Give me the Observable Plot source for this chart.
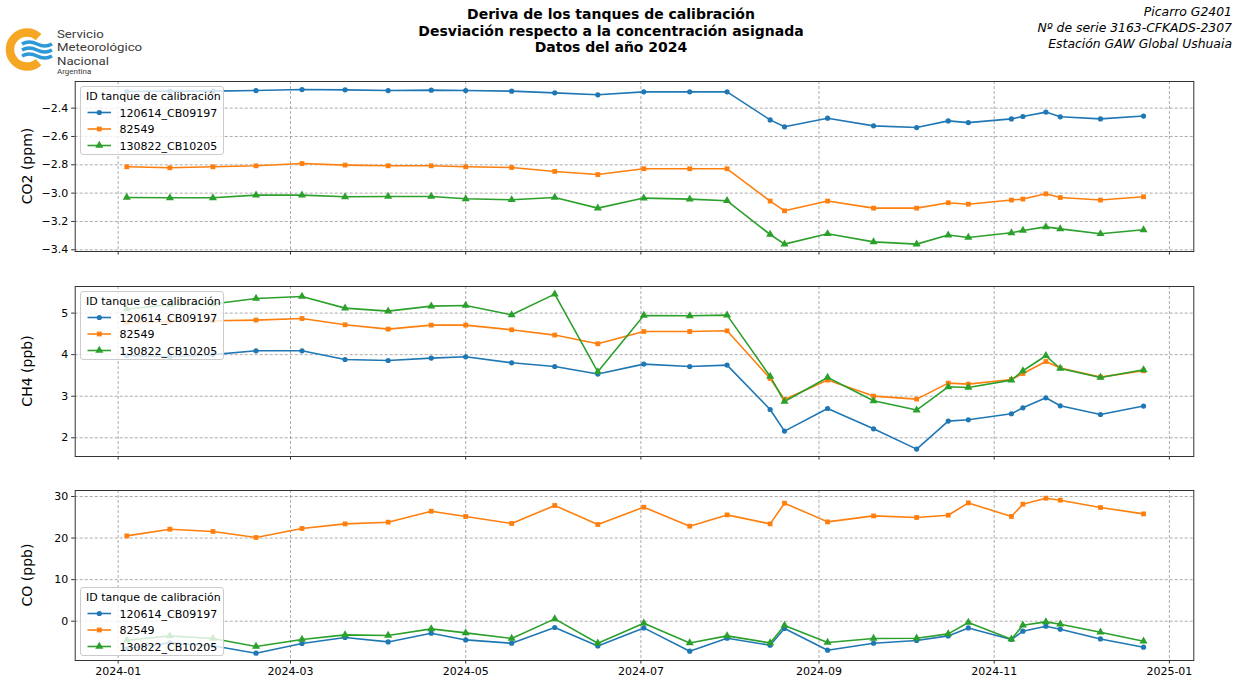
<!DOCTYPE html>
<html>
<head>
<meta charset="utf-8">
<script src="https://cdn.jsdelivr.net/npm/d3@7"></script>
<script src="https://cdn.jsdelivr.net/npm/@observablehq/plot@0.6"></script>
<style>
  html, body { margin: 0; padding: 0; background: #fff; }
  #wrap { position: relative; width: 1242px; height: 681px; overflow: hidden; font-family: "DejaVu Sans", sans-serif; }
  .abs { position: absolute; }
  .title { left: 311px; width: 600px; top: 6px; text-align: center; font-weight: bold; font-size: 14px; line-height: 16.5px; color: #000; }
  .right { right: 10px; top: 4px; text-align: right; font-style: italic; font-size: 12.4px; line-height: 16px; color: #000; }
  .ylab { font-size: 14px; color: #000; transform: translate(-50%, -50%) rotate(-90deg); white-space: nowrap; }
  .legend { background: rgba(255,255,255,0.8); border: 1px solid #ccc; border-radius: 3px; width: 144px; height: 69px; box-sizing: border-box; font-size: 11px; }
  .logo-line { left: 57px; font-family: Roboto, sans-serif; font-size: 11.6px; line-height: 13.6px; color: #3a3a3a; transform: scaleX(1.14); transform-origin: 0 0; white-space: nowrap; }
</style>
</head>
<body>
<div id="wrap"></div>
<script>
// ---------- data ----------
const dates = ["2024-01-04","2024-01-19","2024-02-03","2024-02-18","2024-03-05","2024-03-20","2024-04-04","2024-04-19","2024-05-01","2024-05-17","2024-06-01","2024-06-16","2024-07-02","2024-07-18","2024-07-31","2024-08-15","2024-08-20","2024-09-04","2024-09-20","2024-10-05","2024-10-16","2024-10-23","2024-11-07","2024-11-11","2024-11-19","2024-11-24","2024-12-08","2024-12-23"];
const seriesNames = ["120614_CB09197", "82549", "130822_CB10205"];

const co2_120614 = [-2.283,-2.280,-2.280,-2.276,-2.269,-2.271,-2.276,-2.273,-2.276,-2.280,-2.292,-2.306,-2.285,-2.285,-2.285,-2.483,-2.532,-2.471,-2.525,-2.537,-2.490,-2.502,-2.476,-2.459,-2.428,-2.461,-2.476,-2.456];
const co2_82549 = [-2.814,-2.821,-2.814,-2.807,-2.791,-2.802,-2.807,-2.807,-2.814,-2.819,-2.847,-2.869,-2.828,-2.828,-2.828,-3.056,-3.125,-3.056,-3.106,-3.106,-3.068,-3.078,-3.049,-3.042,-3.005,-3.031,-3.049,-3.026];
const co2_130822 = [-3.031,-3.033,-3.033,-3.014,-3.014,-3.026,-3.024,-3.024,-3.040,-3.047,-3.031,-3.106,-3.035,-3.042,-3.054,-3.292,-3.360,-3.287,-3.344,-3.360,-3.296,-3.313,-3.280,-3.264,-3.238,-3.252,-3.287,-3.259];

const ch4_120614 = [3.98,3.949,4.00,4.093,4.093,3.884,3.860,3.917,3.949,3.804,3.715,3.533,3.773,3.715,3.749,2.681,2.161,2.705,2.217,1.728,2.402,2.433,2.578,2.722,2.962,2.770,2.561,2.763];
const ch4_82549 = [4.774,4.798,4.815,4.832,4.870,4.719,4.615,4.711,4.711,4.598,4.471,4.262,4.557,4.557,4.574,3.427,2.922,3.388,3.003,2.931,3.316,3.292,3.403,3.547,3.836,3.677,3.460,3.612];
const ch4_130822 = [5.10,5.20,5.22,5.351,5.399,5.120,5.048,5.168,5.183,4.959,5.457,3.588,4.942,4.935,4.952,3.475,2.873,3.451,2.890,2.667,3.227,3.210,3.388,3.612,3.973,3.667,3.451,3.636];

const co_120614 = [-6.56,-5.21,-5.9,-7.70,-5.36,-3.92,-4.98,-2.88,-4.50,-5.29,-1.51,-5.94,-1.61,-7.21,-4.09,-5.77,-1.75,-6.97,-5.29,-4.64,-3.53,-1.61,-4.40,-2.40,-1.20,-1.92,-4.26,-6.25];
const co_82549 = [20.52,22.13,21.58,20.14,22.30,23.41,23.82,26.46,25.19,23.50,27.83,23.26,27.43,22.86,25.57,23.41,28.39,23.89,25.33,24.95,25.50,28.46,25.19,28.15,29.59,29.11,27.35,25.81];
const co_130822 = [-4.57,-3.53,-4.16,-6.08,-4.40,-3.29,-3.44,-1.85,-2.81,-4.16,0.56,-5.29,-0.48,-5.22,-3.53,-5.22,-1.03,-5.12,-4.16,-4.09,-3.05,-0.31,-4.33,-0.96,-0.16,-0.72,-2.65,-4.81];

const xTickLabels = ["2024-01","2024-03","2024-05","2024-07","2024-09","2024-11","2025-01"];
const co2Ticks = [-3.4,-3.2,-3.0,-2.8,-2.6,-2.4];
const ch4Ticks = [2,3,4,5];
const coTicks = [0,10,20,30];
const yLabels = ["CO2 (ppm)", "CH4 (ppb)", "CO (ppb)"];
const legendTitle = "ID tanque de calibración";

// ---------- styling ----------
const colors = ["#1f77b4", "#ff7f0e", "#2ca02c"];
const symbols = ["circle", "square", "triangle"];
const symbolR = [2.6, 2.7, 3.0];
const parse = d3.utcParse("%Y-%m-%d");
const xTicks = xTickLabels.map(d3.utcParse("%Y-%m"));
const xDomain = [new Date(Date.UTC(2023, 11, 17, 1)), new Date(Date.UTC(2025, 0, 9, 12))];

const W = 1242, ML = 74.7, MR = 48.7, MT = 10, FH = 170, MB = 28;
const wrap = document.getElementById("wrap");

function buildData(arrs) {
  const out = [];
  arrs.forEach((arr, si) => arr.forEach((v, i) => out.push({date: parse(dates[i]), value: v, series: seriesNames[si]})));
  return out;
}

function panel(arrs, yDomain, yTicks, yFmt, showX, frameTop) {
  const data = buildData(arrs);
  const marks = [
    Plot.gridX(xTicks, {stroke: "#8c8c8c", strokeOpacity: 0.9, strokeWidth: 0.8, strokeDasharray: "3,2"}),
    Plot.gridY(yTicks, {stroke: "#8c8c8c", strokeOpacity: 0.9, strokeWidth: 0.8, strokeDasharray: "3,2"}),
    Plot.line(data, {x: "date", y: "value", z: "series", stroke: "series", strokeWidth: 1.6})
  ];
  seriesNames.forEach((name, si) => {
    marks.push(Plot.dot(data.filter(d => d.series === name), {x: "date", y: "value", fill: "series", symbol: "series", r: symbolR[si], stroke: "none"}));
  });
  marks.push(Plot.frame({stroke: "#333", strokeWidth: 1}));
  marks.push(Plot.axisX({ticks: xTicks, tickFormat: showX ? d3.utcFormat("%Y-%m") : () => "", tickSize: 3.5, tickPadding: 3.5, label: null, stroke: "#333"}));
  marks.push(Plot.axisY({ticks: yTicks, tickFormat: yFmt, tickSize: 3.5, tickPadding: 3.5, label: null, stroke: "#333"}));
  const svg = Plot.plot({
    width: W, height: MT + FH + MB,
    marginLeft: ML, marginRight: MR, marginTop: MT, marginBottom: MB,
    style: {fontFamily: "DejaVu Sans", fontSize: "11px", color: "#000", background: "transparent", overflow: "visible"},
    x: {type: "utc", domain: xDomain},
    y: {domain: yDomain},
    color: {domain: seriesNames, range: colors},
    symbol: {domain: seriesNames, range: symbols},
    marks
  });
  svg.style.position = "absolute";
  svg.style.left = "0px";
  svg.style.top = (frameTop - MT) + "px";
  wrap.appendChild(svg);
}

const frameTops = [80.7, 285.7, 490.3];
panel([co2_120614, co2_82549, co2_130822], [-3.412, -2.212], co2Ticks, d3.format(".1f"), false, frameTops[0]);
panel([ch4_120614, ch4_82549, ch4_130822], [1.55, 5.64], ch4Ticks, d3.format("d"), false, frameTops[1]);
panel([co_120614, co_82549, co_130822], [-9.45, 31.44], coTicks, d3.format("d"), true, frameTops[2]);

// y labels
yLabels.forEach((t, i) => {
  const d = document.createElement("div");
  d.className = "abs ylab";
  d.style.left = "27px";
  d.style.top = (frameTops[i] + FH / 2) + "px";
  d.textContent = t;
  wrap.appendChild(d);
});

// legends
function legend(top) {
  const d = document.createElement("div");
  d.className = "abs legend";
  d.style.left = "80px";
  d.style.top = top + "px";
  const ns = "http://www.w3.org/2000/svg";
  const svg = document.createElementNS(ns, "svg");
  svg.setAttribute("width", 144); svg.setAttribute("height", 69);
  svg.style.position = "absolute"; svg.style.left = "-1px"; svg.style.top = "-1px";
  const tt = document.createElementNS(ns, "text");
  tt.setAttribute("x", 6); tt.setAttribute("y", 14);
  tt.setAttribute("font-size", 11); tt.setAttribute("font-family", "DejaVu Sans");
  tt.textContent = legendTitle; svg.appendChild(tt);
  seriesNames.forEach((name, i) => {
    const y = 26.5 + i * 16.5;
    const ln = document.createElementNS(ns, "line");
    ln.setAttribute("x1", 7.5); ln.setAttribute("x2", 31); ln.setAttribute("y1", y); ln.setAttribute("y2", y);
    ln.setAttribute("stroke", colors[i]); ln.setAttribute("stroke-width", 1.6);
    svg.appendChild(ln);
    const p = document.createElementNS(ns, "path");
    p.setAttribute("d", d3.symbol(d3["symbol" + symbols[i][0].toUpperCase() + symbols[i].slice(1)], Math.PI * symbolR[i] * symbolR[i])());
    p.setAttribute("transform", `translate(19.3,${y})`);
    p.setAttribute("fill", colors[i]);
    svg.appendChild(p);
    const tx = document.createElementNS(ns, "text");
    tx.setAttribute("x", 39.5); tx.setAttribute("y", y + 4);
    tx.setAttribute("font-size", 11); tx.setAttribute("font-family", "DejaVu Sans");
    tx.textContent = name; svg.appendChild(tx);
  });
  d.appendChild(svg);
  wrap.appendChild(d);
}
legend(86);
legend(291);
legend(586.5);

// titles
const title = document.createElement("div");
title.className = "abs title";
title.innerHTML = "Deriva de los tanques de calibración<br>Desviación respecto a la concentración asignada<br>Datos del año 2024";
wrap.appendChild(title);
const right = document.createElement("div");
right.className = "abs right";
right.innerHTML = "Picarro G2401<br>Nº de serie 3163-CFKADS-2307<br>Estación GAW Global Ushuaia";
wrap.appendChild(right);

// logo
const logo = document.createElement("div");
logo.className = "abs";
logo.style.left = "0px"; logo.style.top = "0px";
logo.innerHTML = `<svg width="56" height="80">
  <path d="M 38.5 37 A 17 17 0 1 0 38.5 62" fill="none" stroke="#f5a623" stroke-width="8.5"/>
  <path d="M 22 44 q 7 -4 15 0 t 15 0" fill="none" stroke="#2d9ad8" stroke-width="3.6"/>
  <path d="M 22 50 q 7 -4 15 0 t 15 0" fill="none" stroke="#2d9ad8" stroke-width="3.6"/>
  <path d="M 22 56 q 7 -4 15 0 t 15 0" fill="none" stroke="#2d9ad8" stroke-width="3.6"/>
</svg>`;
wrap.appendChild(logo);
[["Servicio", 27.5], ["Meteorológico", 41.1], ["Nacional", 54.7]].forEach(([t, top]) => {
  const d = document.createElement("div");
  d.className = "abs logo-line";
  d.style.top = top + "px";
  d.textContent = t;
  wrap.appendChild(d);
});
const arg = document.createElement("div");
arg.className = "abs logo-line";
arg.style.top = "68.4px";
arg.style.fontSize = "7px";
arg.style.lineHeight = "8.4px";
arg.textContent = "Argentina";
wrap.appendChild(arg);
</script>
</body>
</html>
